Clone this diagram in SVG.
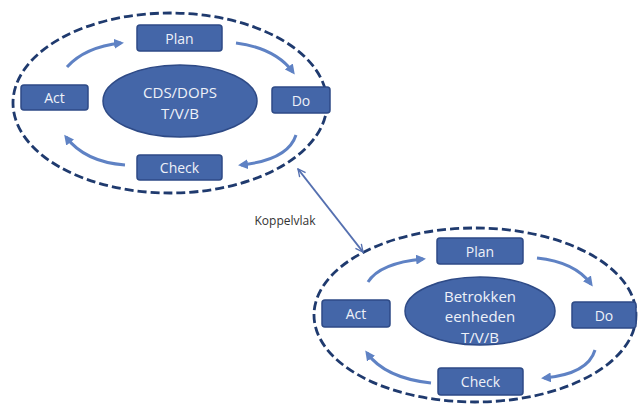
<svg xmlns="http://www.w3.org/2000/svg" width="638" height="405" viewBox="0 0 638 405">
<defs>
<style>
.box{fill:#4466a8;stroke:#2e4a86;stroke-width:1.5}
.core{fill:#4466a8;stroke:#2e4a86;stroke-width:1.5}
.lbl{font-family:"Open Sans","Liberation Sans",sans-serif;font-size:14px;fill:#eef1f8;text-anchor:middle;dominant-baseline:central}
.big{font-size:15px}
.outer{fill:none;stroke:#1f3a6e;stroke-width:2.8;stroke-dasharray:9 4}
.cyc{fill:none;stroke:#5f82c4;stroke-width:3;marker-end:url(#ah)}
.kop{fill:none;stroke:#5570b0;stroke-width:2;marker-start:url(#kh);marker-end:url(#kh)}
</style>
<marker id="ah" viewBox="0 0 10 10" refX="7" refY="5" markerWidth="3.3" markerHeight="3.3" orient="auto-start-reverse"><path d="M0,0 L10,5 L0,10 z" fill="#5f82c4"/></marker>
<marker id="kh" viewBox="0 0 12 12" refX="11" refY="6" markerWidth="9" markerHeight="9" markerUnits="userSpaceOnUse" orient="auto-start-reverse"><path d="M1,1 L11,6 L1,11" fill="none" stroke="#5570b0" stroke-width="1.8"/></marker>
</defs>
<rect width="638" height="405" fill="#ffffff"/>

<g id="cluster1">
<ellipse class="outer" cx="170" cy="103" rx="157" ry="90"/>
<g id="core1"><ellipse class="core" cx="180" cy="101" rx="77" ry="36"/>
<text class="lbl big" x="180" y="92">CDS/DOPS</text><text class="lbl big" x="180" y="113">T/V/B</text></g>
<g id="plan1"><rect class="box" x="137" y="25" width="85" height="26" rx="3"/><text class="lbl" x="179.5" y="38">Plan</text></g>
<g id="act1"><rect class="box" x="21" y="85" width="67" height="25" rx="3"/><text class="lbl" x="54.5" y="97.5">Act</text></g>
<g id="do1"><rect class="box" x="272" y="87" width="58" height="26" rx="3"/><text class="lbl" x="301" y="100">Do</text></g>
<g id="check1"><rect class="box" x="137" y="155" width="85" height="25" rx="3"/><text class="lbl" x="179.5" y="167.5">Check</text></g>
</g>

<g id="cluster2">
<ellipse class="outer" cx="475" cy="315" rx="161" ry="87"/>
<g id="core2"><ellipse class="core" cx="480" cy="311" rx="75" ry="34"/>
<text class="lbl big" x="480" y="296">Betrokken</text><text class="lbl big" x="480" y="316">eenheden</text><text class="lbl big" x="480" y="337">T/V/B</text></g>
<g id="plan2"><rect class="box" x="437" y="238" width="86" height="26" rx="3"/><text class="lbl" x="480" y="251">Plan</text></g>
<g id="act2"><rect class="box" x="322" y="300" width="68" height="27" rx="3"/><text class="lbl" x="356" y="313.5">Act</text></g>
<g id="do2"><rect class="box" x="572" y="302" width="64" height="26" rx="3"/><text class="lbl" x="604" y="315">Do</text></g>
<g id="check2"><rect class="box" x="438" y="368" width="85" height="27" rx="3"/><text class="lbl" x="480.5" y="381.5">Check</text></g>
</g>

<g id="connectors">
<path class="cyc" d="M67,67 Q85,47 121,43"/>
<path class="cyc" d="M236,43 Q275,48 293,72"/>
<path class="cyc" d="M296,135 Q288,160 241,165"/>
<path class="cyc" d="M125,165 Q85,162 66,137"/>
<path class="cyc" d="M368,282 Q380,263 423,259"/>
<path class="cyc" d="M537,258 Q575,262 591,284"/>
<path class="cyc" d="M595,350 Q588,374 544,378"/>
<path class="cyc" d="M431,383 Q385,378 367,353"/>
<path class="kop" d="M298,169 L363,252"/>
<text x="285" y="220" font-family="'Open Sans','Liberation Sans',sans-serif" font-size="12" fill="#333333" text-anchor="middle" dominant-baseline="central">Koppelvlak</text>
</g>
</svg>
